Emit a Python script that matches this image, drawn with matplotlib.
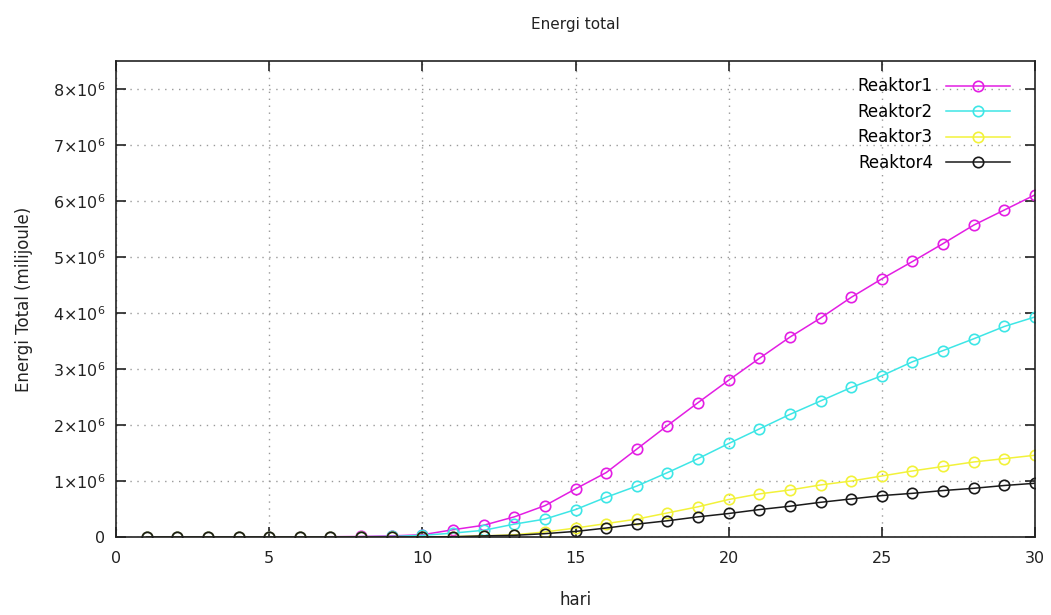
import matplotlib
matplotlib.use("Agg")
import matplotlib.pyplot as plt
from matplotlib.ticker import FuncFormatter, MultipleLocator

plt.rcParams['font.family'] = ['DejaVu Sans']
plt.rcParams['mathtext.default'] = 'regular'

days = list(range(1, 31))
reaktor1 = [0, 0, 0, 0, 0, 0, 0.005, 0.01, 0.02, 0.04, 0.13, 0.21, 0.36, 0.56, 0.86,
            1.15, 1.57, 1.99, 2.40, 2.80, 3.19, 3.57, 3.91, 4.28, 4.61, 4.92, 5.24, 5.57, 5.84, 6.11]
reaktor2 = [0, 0, 0, 0, 0, 0, 0, 0.005, 0.01, 0.03, 0.07, 0.12, 0.23, 0.32, 0.49,
            0.71, 0.91, 1.15, 1.40, 1.67, 1.93, 2.19, 2.43, 2.67, 2.88, 3.13, 3.33, 3.54, 3.76, 3.93]
reaktor3 = [0, 0, 0, 0, 0, 0, 0, 0, 0, 0.003, 0.008, 0.02, 0.04, 0.09, 0.16,
            0.24, 0.32, 0.43, 0.54, 0.67, 0.77, 0.84, 0.93, 1.00, 1.09, 1.18, 1.26, 1.34, 1.40, 1.46]
reaktor4 = [0, 0, 0, 0, 0, 0, 0, 0, 0, 0, 0.005, 0.02, 0.03, 0.06, 0.10,
            0.16, 0.23, 0.29, 0.36, 0.42, 0.49, 0.55, 0.62, 0.68, 0.74, 0.78, 0.83, 0.87, 0.92, 0.96]
scale = 1e6
series = [("Reaktor1", reaktor1, "#e31ee3"),
          ("Reaktor2", reaktor2, "#3ee6e6"),
          ("Reaktor3", reaktor3, "#f2f23a"),
          ("Reaktor4", reaktor4, "#1a1a1a")]

fig = plt.figure(figsize=(10.51, 6.15), dpi=100)
ax = fig.add_axes([0.1104, 0.1268, 0.8744, 0.774])

for name, vals, col in series:
    ax.plot(days, [v * scale for v in vals], color=col, lw=1.1, marker='o',
            markersize=7.5, markerfacecolor='none', markeredgecolor=col,
            markeredgewidth=1.2, label=name)

ax.set_xlim(0, 30)
ax.set_ylim(0, 8.5e6)
ax.xaxis.set_major_locator(MultipleLocator(5))
ax.yaxis.set_major_locator(MultipleLocator(1e6))

def yfmt(v, pos):
    n = int(round(v / 1e6))
    if n == 0:
        return "0"
    return r"$%d{\times}10^{6}$" % n

ax.yaxis.set_major_formatter(FuncFormatter(yfmt))
ax.tick_params(direction='in', length=7, width=1.2, top=True, right=True,
               labelsize=11.5, pad=8, colors='#222222')
ax.tick_params(axis='x', pad=10)
for s in ax.spines.values():
    s.set_linewidth(1.2)
    s.set_color('#222222')

ax.grid(True, linestyle=(0, (1, 4)), color='#999999', linewidth=1)

ax.set_title("Energi total", fontsize=11, pad=23, color='#222222')
ax.set_xlabel("hari", fontsize=12, labelpad=18, color='#222222')
ax.set_ylabel("Energi Total (milijoule)", fontsize=12, labelpad=14, color='#222222')

leg = ax.legend(loc='upper right', frameon=False, markerfirst=False,
                handlelength=3.8, fontsize=12, labelspacing=0.45,
                bbox_to_anchor=(0.985, 0.99), borderaxespad=0.3)

fig.savefig("out.png", dpi=100)
